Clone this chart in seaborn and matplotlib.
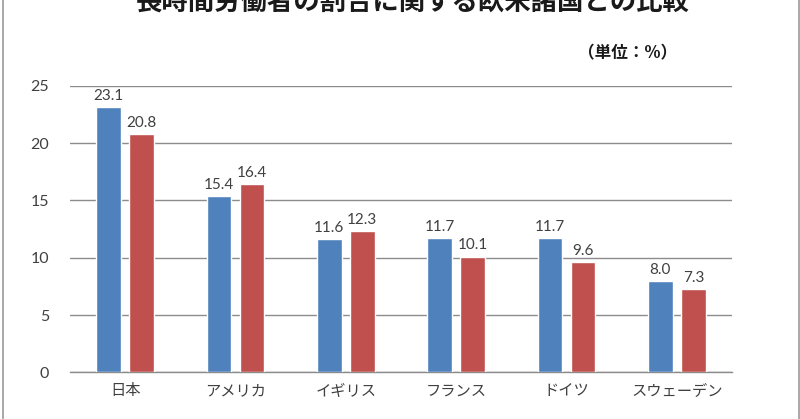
import matplotlib
matplotlib.use("Agg")
import matplotlib.pyplot as plt
from matplotlib.lines import Line2D
import seaborn as sns
import pandas as pd

categories = ["日本", "アメリカ", "イギリス", "フランス", "ドイツ", "スウェーデン"]
series_names = ["系列1", "系列2"]
values_1 = [23.1, 15.4, 11.6, 11.7, 11.7, 8.0]
values_2 = [20.8, 16.4, 12.3, 10.1, 9.6, 7.3]
yticks = [0, 5, 10, 15, 20, 25]
title = "長時間労働者の割合に関する欧米諸国との比較"
unit_label = "（単位：%）"

df = pd.DataFrame({
    "国": categories * 2,
    "系列": [series_names[0]] * len(categories) + [series_names[1]] * len(categories),
    "割合": values_1 + values_2,
})

sns.set_theme(style="white")
plt.rcParams["font.family"] = ["Lato", "Noto Sans CJK JP", "DejaVu Sans"]

fig = plt.figure(figsize=(8.0, 4.19), dpi=100)
ax = fig.add_axes([0.0875, 0.111, 0.8275, 0.6845])

palette = {series_names[0]: "#4F81BD", series_names[1]: "#C0504D"}
sns.barplot(data=df, x="国", y="割合", hue="系列", palette=palette, ax=ax,
            width=0.6, gap=0.25, legend=False, saturation=1, errorbar=None, zorder=3)

for c in ax.containers:
    ax.bar_label(c, fmt="%.1f", padding=3, fontsize=11, color="#404040")

ax.set_ylim(0, 25)
ax.set_yticks(yticks)
ax.set_xlim(-0.5, 5.5)
ax.yaxis.grid(True, color="#8C8C8C", linewidth=1.0, zorder=0)
ax.set_axisbelow(True)
for s in ["left", "right", "top"]:
    ax.spines[s].set_visible(False)
ax.spines["bottom"].set_color("#8C8C8C")
ax.spines["bottom"].set_linewidth(1.0)
ax.set_xlabel("")
ax.set_ylabel("")
ax.tick_params(axis="y", labelsize=11.5, labelcolor="#404040", length=0, pad=15)
ax.tick_params(axis="x", labelsize=11, labelcolor="#404040", length=0, pad=7)
for lab in ax.get_xticklabels():
    lab.set_fontfamily(["Noto Sans CJK JP", "DejaVu Sans"])

fig.text(413 / 800, 1 - 3 / 419, title, ha="center", va="center", fontsize=19,
         fontweight="bold", color="#1a1a1a", family=["Noto Sans CJK JP", "DejaVu Sans"])
fig.text(628 / 800, 1 - 53 / 419, unit_label, ha="center", va="center", fontsize=12,
         fontweight="bold", color="#1a1a1a", family=["Noto Sans CJK JP", "DejaVu Sans"])

fig.add_artist(Line2D([2.5 / 800, 2.5 / 800], [0, 1], transform=fig.transFigure,
                      color="#9a9a9a", linewidth=1.2))
fig.add_artist(Line2D([798.5 / 800, 798.5 / 800], [0, 1], transform=fig.transFigure,
                      color="#9a9a9a", linewidth=1.2))

fig.savefig("out.png", dpi=100)
